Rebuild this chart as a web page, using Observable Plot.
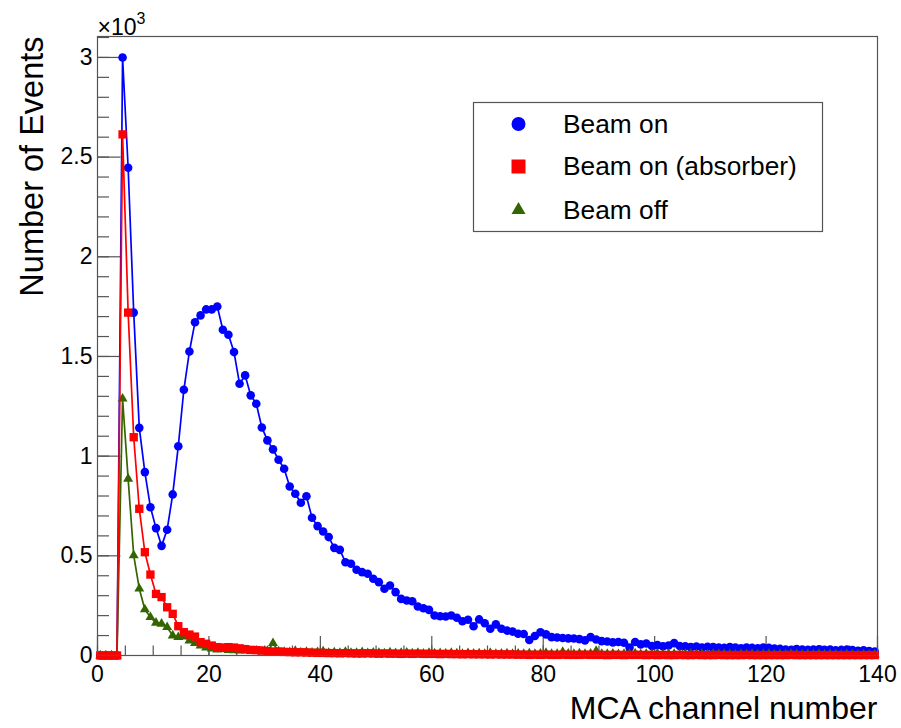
<!DOCTYPE html>
<html>
<head>
<meta charset="utf-8">
<script src="https://cdn.jsdelivr.net/npm/d3@7"></script>
<script src="https://cdn.jsdelivr.net/npm/@observablehq/plot@0.6"></script>
<style>
  html, body { margin: 0; padding: 0; background: #fff; }
  #chart { width: 901px; height: 728px; }
</style>
</head>
<body>
<div id="chart"></div>
<script>
// MCA channel (bin index 0..139); points drawn at bin centres
const channels = d3.range(140);

// Beam on (blue circles)
const beamOn = [
  0,0,0,0,3000,2447,1720,1142,920,744,
  639,550,631,808,1050,1333,1525,1672,1706,1736,
  1736,1751,1634,1609,1522,1363,1405,1305,1263,1144,
  1079,1034,982,937,848,811,766,799,691,649,
  622,594,540,530,468,460,430,418,410,385,
  368,335,351,318,284,276,272,246,237,229,
  201,197,196,201,189,172,179,147,181,162,
  134,156,134,125,120,109,108,78,98,117,
  106,92,90,88,86,85,82,76,92,80,
  72,70,66,68,64,40,68,56,60,48,
  52,46,50,62,48,46,42,45,40,44,
  42,40,38,42,40,36,40,38,36,40,
  38,35,33,30,28,32,30,28,30,31,
  28,30,26,28,30,27,24,26,22,20
];

// Beam on (absorber) (red squares)
const beamOnAbsorber = [
  0,0,0,0,2614,1720,1095,736,518,406,
  309,293,242,209,147,117,105,95,67,59,
  50,42,40,42,40,36,32,28,27,25,
  22,20,20,18,17,16,16,15,14,13,
  13,12,12,11,12,11,10,10,11,10,
  9,10,9,9,8,9,8,9,8,8,
  8,7,8,7,7,6,7,6,6,6,
  5,6,5,5,5,4,4,3,4,3,
  4,3,3,4,3,3,3,4,3,3,
  3,2,3,3,2,3,3,3,2,3,
  2,3,2,2,3,2,2,3,2,2,
  2,3,2,2,2,2,3,2,2,2,
  2,2,2,2,3,2,2,2,2,2,
  2,2,2,2,2,2,2,2,2,2
];

// Beam off (green triangles)
const beamOff = [
  0,0,0,0,1288,886,502,335,231,192,
  164,159,142,100,92,95,75,62,50,39,
  34,30,32,27,26,24,26,22,24,20,
  22,62,20,18,16,22,15,18,14,16,
  20,13,15,12,18,13,12,16,11,14,
  12,10,15,11,12,14,10,12,9,13,
  10,11,9,12,10,8,11,9,10,8,
  12,8,9,10,7,9,8,10,7,9,
  12,8,7,18,9,8,10,7,9,22,
  8,7,9,6,8,7,10,6,8,7,
  9,6,7,8,6,7,9,6,7,5,
  8,6,7,6,5,7,6,8,5,6,
  7,5,6,5,7,6,5,6,5,7,
  5,6,5,4,6,5,4,5,4,5
];

const seriesNames = ["Beam on", "Beam on (absorber)", "Beam off"];
const seriesColors = ["#0000ff", "#ff0000", "#336600"];
const seriesSymbols = ["circle", "square", "triangle"];

const xMajorTicks = [0, 20, 40, 60, 80, 100, 120, 140];
const xMinorTicks = d3.range(0, 141, 5);
const yMajorTicks = [0, 500, 1000, 1500, 2000, 2500, 3000];
const yMinorTicks = d3.range(0, 3101, 100);

const W = 901, H = 728, mL = 97, mR = 24, mT = 36, mB = 73;
const plotW = W - mL - mR, plotH = H - mT - mB;
const fontFamily = "'Liberation Sans', Arial, Helvetica, sans-serif";

function rows(values) {
  return channels.map((c, i) => ({x: c + 0.5, y: values[i]})).filter(d => d.y !== undefined);
}
const blueRows = rows(beamOn);
const redRows = rows(beamOnAbsorber);
const greenRows = rows(beamOff);

const axisColor = "#555";

function legendMark() {
  const g = d3.create("svg:g");
  g.append("rect")
    .attr("x", 473.5).attr("y", 102.5).attr("width", 349).attr("height", 129)
    .attr("fill", "#fff").attr("stroke", axisColor).attr("stroke-width", 1.2);
  const cy = [124, 166.5, 210];
  const symMap = {circle: d3.symbolCircle, square: d3.symbolSquare, triangle: d3.symbolTriangle};
  const sizes = {circle: Math.PI * 49, square: 196, triangle: 14 * 14 * Math.sqrt(3) / 4};
  seriesNames.forEach((name, i) => {
    const s = seriesSymbols[i];
    g.append("path")
      .attr("transform", `translate(518.5,${cy[i]})`)
      .attr("d", d3.symbol(symMap[s], sizes[s])())
      .attr("fill", seriesColors[i]);
    g.append("text")
      .attr("x", 563).attr("y", cy[i]).attr("dy", "0.34em")
      .attr("text-anchor", "start")
      .attr("font-family", fontFamily)
      .attr("font-size", 26.3).attr("fill", "#000")
      .text(name);
  });
  return g.node();
}

const chart = Plot.plot({
  width: W, height: H,
  marginLeft: mL, marginRight: mR, marginTop: mT, marginBottom: mB,
  style: {fontFamily, fontSize: "23px", background: "#fff", color: "#000"},
  x: {domain: [0, 140]},
  y: {domain: [0, 3105]},
  marks: [
    // minor & major ticks pointing inward
    Plot.tickX(xMinorTicks, {x: d => d, insetTop: plotH - 9.5, stroke: axisColor, strokeWidth: 1.2}),
    Plot.tickX(xMajorTicks, {x: d => d, insetTop: plotH - 19, stroke: axisColor, strokeWidth: 1.2}),
    Plot.tickY(yMinorTicks, {y: d => d, insetRight: plotW - 12, stroke: axisColor, strokeWidth: 1.2}),
    Plot.tickY(yMajorTicks, {y: d => d, insetRight: plotW - 23.5, stroke: axisColor, strokeWidth: 1.2}),
    Plot.axisX({ticks: xMajorTicks, tickSize: 0, tickPadding: 10, label: null, fontSize: 23}),
    Plot.axisY({ticks: yMajorTicks, tickSize: 0, tickPadding: 5, label: null, fontSize: 23, tickFormat: d => String(d / 1000)}),
    // series
    Plot.line(blueRows, {x: "x", y: "y", stroke: seriesColors[0], strokeWidth: 1.7}),
    Plot.dot(blueRows, {x: "x", y: "y", fill: seriesColors[0], stroke: "none", r: 4.3, symbol: "circle"}),
    Plot.line(greenRows, {x: "x", y: "y", stroke: seriesColors[2], strokeWidth: 1.7}),
    Plot.dot(greenRows, {x: "x", y: "y", fill: seriesColors[2], stroke: "none", r: 3.7, symbol: "triangle"}),
    Plot.line(redRows, {x: "x", y: "y", stroke: seriesColors[1], strokeWidth: 1.7}),
    Plot.dot(redRows, {x: "x", y: "y", fill: seriesColors[1], stroke: "none", r: 4.7, symbol: "square"}),
    Plot.frame({stroke: axisColor, strokeWidth: 1.2}),
    // axis titles and exponent
    Plot.text(["MCA channel number"], {text: d => d, frameAnchor: "bottom-right", textAnchor: "end", lineAnchor: "top", dy: 41, fontSize: 32}),
    Plot.text(["Number of Events"], {text: d => d, frameAnchor: "top-left", textAnchor: "end", lineAnchor: "bottom", rotate: -90, dx: -55, dy: 0, fontSize: 32.5}),
    Plot.text(["×10"], {text: d => d, frameAnchor: "top-left", textAnchor: "start", lineAnchor: "bottom", dx: 0, dy: -2, fontSize: 23}),
    Plot.text(["3"], {text: d => d, frameAnchor: "top-left", textAnchor: "start", lineAnchor: "bottom", dx: 39, dy: -13, fontSize: 16}),
    legendMark
  ]
});

document.getElementById("chart").appendChild(chart);
</script>
</body>
</html>
